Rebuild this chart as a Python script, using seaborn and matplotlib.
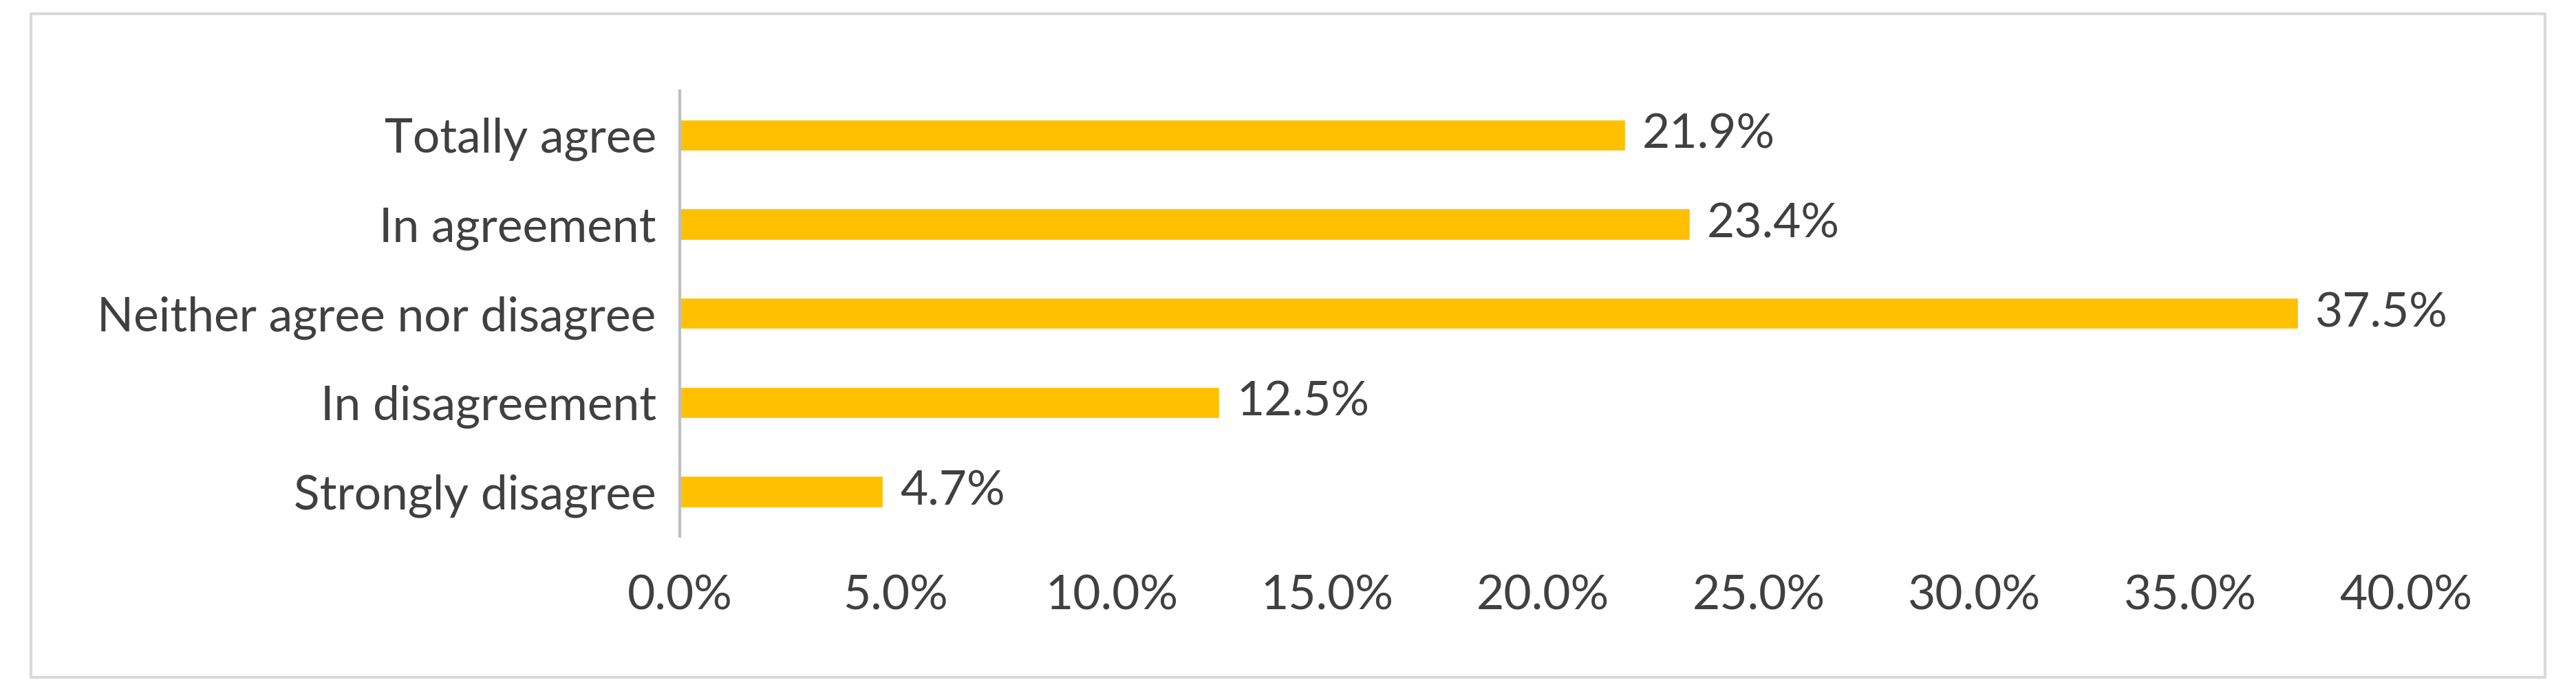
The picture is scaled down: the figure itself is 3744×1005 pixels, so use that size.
import matplotlib
matplotlib.use("Agg")
import matplotlib.pyplot as plt
import seaborn as sns
import pandas as pd
from matplotlib.patches import Rectangle

categories = ["Totally agree", "In agreement", "Neither agree nor disagree",
              "In disagreement", "Strongly disagree"]
values = [21.9, 23.4, 37.5, 12.5, 4.7]
xticks = [0, 5, 10, 15, 20, 25, 30, 35, 40]

sns.set_style("white")
plt.rcParams['font.family'] = ['Lato', 'DejaVu Sans']

df = pd.DataFrame({"cat": categories, "val": values})
fig = plt.figure(figsize=(37.44, 10.05), dpi=100)
ax = fig.add_axes([0.264, 0.224, 0.67, 0.645])
sns.barplot(data=df, x="val", y="cat", color="#FFC000", width=0.35,
            saturation=1, ax=ax)

txt = "#404040"
fs = 50
for i, v in enumerate(values):
    ax.text(v + 0.4, i, f"{v:.1f}%", va="center", ha="left", fontsize=fs, color=txt)

ax.set_xlim(0, 40)
ax.set_xticks(xticks)
ax.set_xticklabels([f"{t:.1f}%" for t in xticks], fontsize=fs, color=txt)
ax.tick_params(axis="y", labelsize=fs, labelcolor=txt, length=0, pad=25)
ax.tick_params(axis="x", length=0, pad=40)
ax.set_xlabel("")
ax.set_ylabel("")
for s in ["top", "right", "bottom"]:
    ax.spines[s].set_visible(False)
ax.spines["left"].set_color("#BFBFBF")
ax.spines["left"].set_linewidth(3)

fig.patches.append(Rectangle((0.012, 0.02), 0.976, 0.96, transform=fig.transFigure,
                             fill=False, edgecolor="#D9D9D9", linewidth=3))
fig.savefig("out.png", dpi=100)
